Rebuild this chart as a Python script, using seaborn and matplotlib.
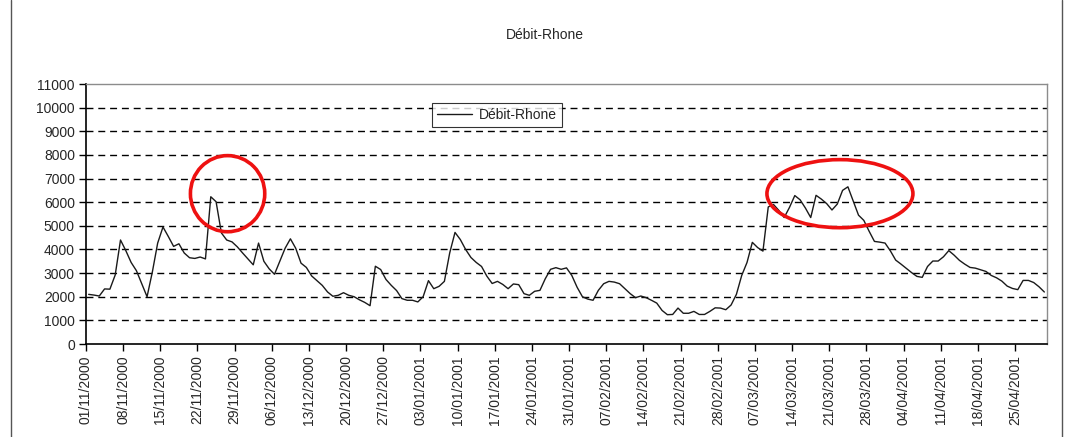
import numpy as np
import pandas as pd
import matplotlib
matplotlib.use("Agg")
import matplotlib.pyplot as plt
import matplotlib.dates as mdates
from matplotlib.patches import Ellipse
from matplotlib.lines import Line2D
import seaborn as sns

# Daily Rhône discharge (m3/s), 1 Nov 2000 - 30 Apr 2001
nov_2000 = [2100, 2070, 2030, 2330, 2320, 2920, 4400, 3950, 3450, 3100,
            2550, 2000, 3050, 4270, 4950, 4550, 4130, 4240, 3850, 3650,
            3620, 3680, 3600, 6230, 6020, 4700, 4400, 4320, 4110, 3850]
dec_2000 = [3600, 3350, 4270, 3500, 3180, 2950, 3500, 4050, 4450, 4050,
            3420, 3240, 2880, 2680, 2480, 2200, 2020, 2060, 2170, 2060,
            2000, 1870, 1760, 1620, 3290, 3150, 2730, 2480, 2260, 1920,
            1850]
jan_2001 = [1850, 1780, 2000, 2680, 2340, 2440, 2650, 3850, 4720, 4420,
            4000, 3660, 3450, 3280, 2870, 2560, 2650, 2520, 2340, 2540,
            2510, 2130, 2060, 2230, 2270, 2760, 3160, 3230, 3160, 3220,
            2900]
feb_2001 = [2400, 2000, 1900, 1850, 2270, 2550, 2650, 2620, 2550, 2340,
            2130, 1960, 2030, 1960, 1850, 1730, 1420, 1240, 1250, 1520,
            1300, 1300, 1380, 1250, 1250, 1380, 1530, 1520]
mar_2001 = [1450, 1650, 2100, 2900, 3450, 4300, 4080, 3930, 5800, 5900,
            5650, 5350, 5780, 6280, 6100, 5750, 5350, 6290, 6130, 5940,
            5670, 5920, 6500, 6650, 6050, 5450, 5230, 4770, 4340, 4310,
            4270]
apr_2001 = [3940, 3550, 3380, 3200, 3020, 2860, 2820, 3280, 3510, 3510,
            3690, 3950, 3760, 3540, 3380, 3240, 3210, 3140, 3070, 2900,
            2800, 2660, 2450, 2350, 2300, 2690, 2690, 2600, 2420, 2200]

series_name = "Débit-Rhone"
y_ticks = list(range(0, 12000, 1000))

debit = nov_2000 + dec_2000 + jan_2001 + feb_2001 + mar_2001 + apr_2001
dates = pd.date_range("2000-11-01", periods=len(debit), freq="D")
df = pd.DataFrame({"date": dates + pd.Timedelta(hours=12), series_name: debit})

sns.set_style("white")
plt.rcParams["font.family"] = ["Liberation Sans", "DejaVu Sans"]

fig = plt.figure(figsize=(10.70, 4.37), dpi=100)
ax = fig.add_axes([86 / 1070, 1 - 344 / 437, (1047 - 86) / 1070, (344 - 84) / 437])

sns.lineplot(data=df, x="date", y=series_name, ax=ax, color="#1a1a1a",
             linewidth=1.0, label=series_name)

ax.set_xlim(pd.Timestamp("2000-11-01"), pd.Timestamp("2001-05-01"))
ax.set_ylim(0, 11000)
ax.set_yticks(y_ticks)
ax.set_yticklabels([str(v) for v in y_ticks], fontsize=10)

week_ticks = pd.date_range("2000-11-01", "2001-04-30", freq="7D")
ax.set_xticks(week_ticks)
ax.xaxis.set_major_formatter(mdates.DateFormatter("%d/%m/%Y"))
plt.setp(ax.get_xticklabels(), rotation=90, fontsize=10, va="top", ha="center")
ax.set_xlabel("")
ax.set_ylabel("")

# dashed horizontal gridlines
for v in y_ticks[1:-1]:
    ax.axhline(v, color="black", linestyle=(0, (5, 3.5)), linewidth=1.0, zorder=0.5)

ax.tick_params(axis="both", which="major", direction="out", length=5, width=1,
               color="black", bottom=True, left=True, pad=3)
for side in ("left", "bottom"):
    ax.spines[side].set_color("black")
    ax.spines[side].set_linewidth(1.2)
for side in ("top", "right"):
    ax.spines[side].set_color("#8c8c8c")
    ax.spines[side].set_linewidth(1.0)

leg = ax.legend(loc="upper left", bbox_to_anchor=(0.353, 0.953), fontsize=10,
                frameon=True, fancybox=False, edgecolor="black",
                handlelength=2.5, borderpad=0.35, handletextpad=0.5)
leg.get_frame().set_linewidth(0.8)

# highlighted flood peaks
for cx, w, h in [(pd.Timestamp("2000-11-27 16:00"), 14, 3220),
                 (pd.Timestamp("2001-03-23"), 27.5, 2880)]:
    e = Ellipse((mdates.date2num(cx), 6360), width=w, height=h, fill=False,
                edgecolor="#ee1111", linewidth=2.6, zorder=5, clip_on=False)
    ax.add_patch(e)

fig.text(545 / 1070, 1 - 35 / 437, "Débit-Rhone", ha="center", va="center", fontsize=10)

# chart-area frame
for xpx in (11, 1062):
    fig.add_artist(Line2D([xpx / 1070, xpx / 1070], [0, 1], color="#555555",
                          linewidth=1.0, transform=fig.transFigure))

fig.savefig("out.png", dpi=100, facecolor="white")
